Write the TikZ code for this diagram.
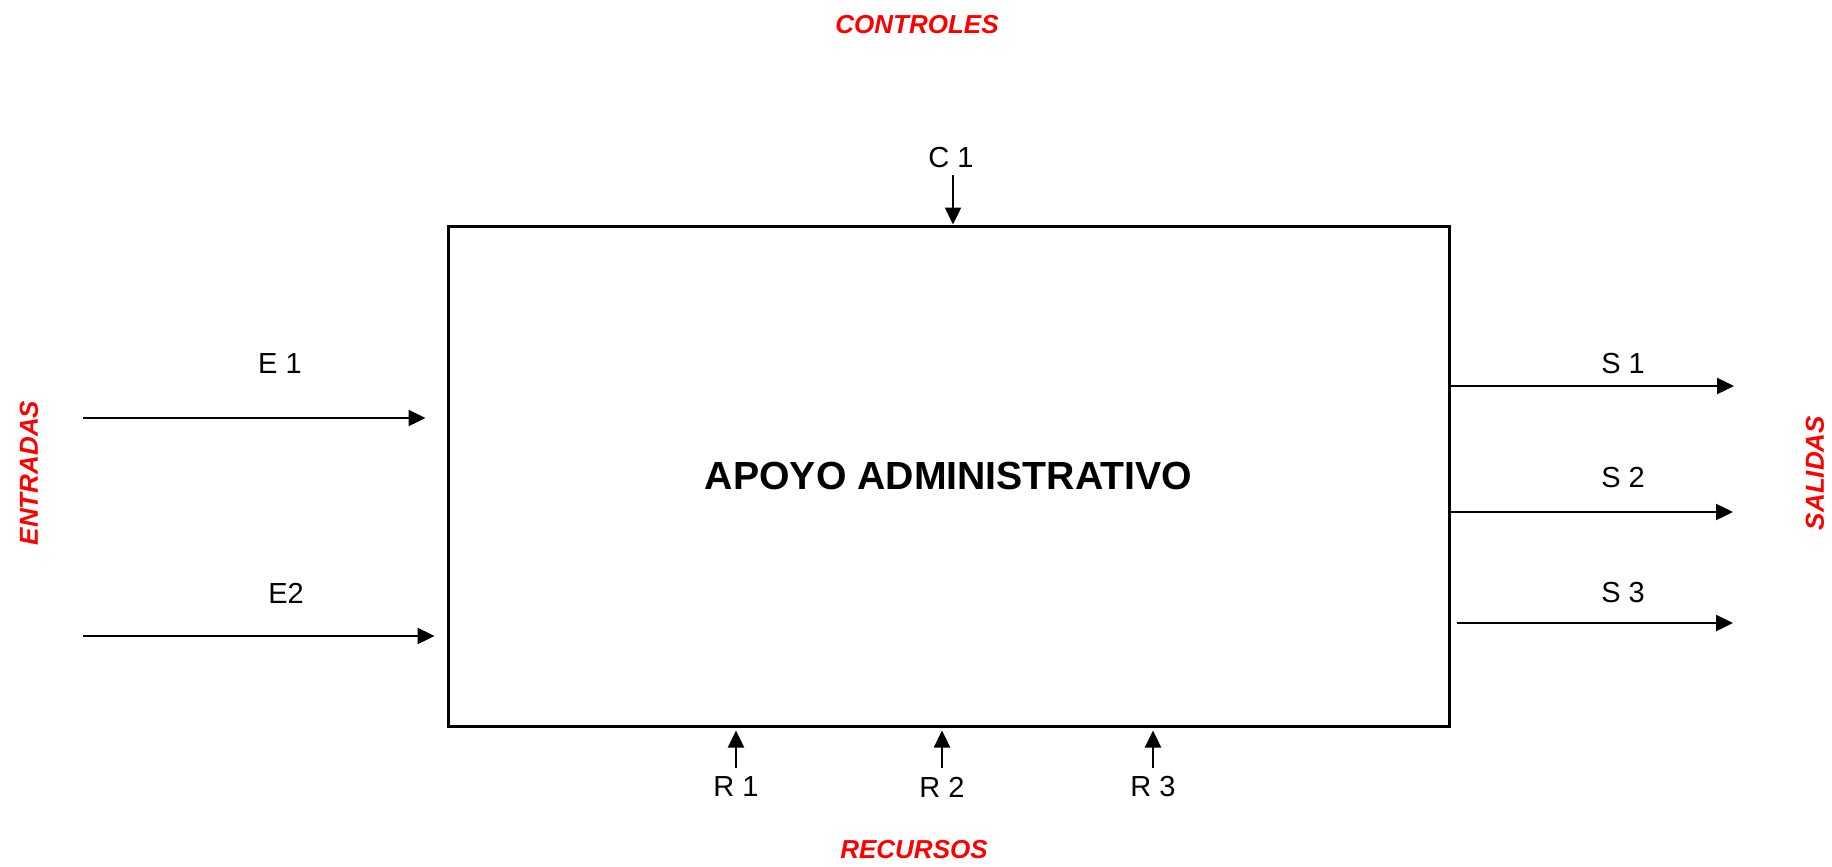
\documentclass[tikz,border=0pt]{standalone}
\usepackage{fontspec}
\setmainfont{Liberation Sans}
\usetikzlibrary{arrows.meta,calc}

\begin{document}
\begin{tikzpicture}[x=0.5pt,y=-0.5pt,
	flow/.style={line width=1.2pt,-{Triangle[length=8.5pt,width=8pt]}},
	lbl/.style={font=\fontsize{14.5}{17}\selectfont,inner sep=0pt},
	side/.style={font=\fontsize{13}{15}\bfseries\itshape\selectfont,text=red,inner sep=0pt}]
	\useasboundingbox (0,0) rectangle (1832,867);

	\node (proc) [draw,line width=1.5pt,minimum width=500.5pt,minimum height=250pt,inner sep=0pt]
		at (948.5,476) {\fontsize{19.6}{23}\bfseries\selectfont APOYO ADMINISTRATIVO};

	% entradas
	\coordinate (e1) at (83,418);
	\coordinate (e2) at (83,636);
	\draw[flow,shorten >=10.5pt] (e1) -- (e1 -| proc.west);
	\draw[flow,shorten >=6pt] (e2) -- (e2 -| proc.west);
	\node (le1) [lbl] at (280,364) {E 1};
	\node (le2) [lbl] at (286,593) {E2};
	\node (entradas) [side,rotate=90] at (29,473) {ENTRADAS};

	% salidas
	\coordinate (s1) at (1734,386);
	\coordinate (s2) at (1733,512);
	\coordinate (s3) at (1733,623);
	\draw[flow] (s1 -| proc.east) -- (s1);
	\draw[flow] (s2 -| proc.east) -- (s2);
	\draw[flow,shorten <=3pt] (s3 -| proc.east) -- (s3);
	\node (ls1) [lbl] at (1623,364) {S 1};
	\node (ls2) [lbl] at (1623,478) {S 2};
	\node (ls3) [lbl] at (1623,593) {S 3};
	\node (salidas) [side,rotate=90] at (1815,473) {SALIDAS};

	% controles
	\coordinate (c1) at (953,175);
	\draw[flow] (c1) -- (c1 |- proc.north);
	\node (lc1) [lbl] at (951,158) {C 1};
	\node (controles) [side] at (917,25) {CONTROLES};

	% recursos
	\foreach \x/\n in {736/1,942/2,1153/3}{
		\coordinate (r\n) at (\x,768);
		\draw[flow,shorten >=1.5pt] (r\n) -- (r\n |- proc.south);
		\node (lr\n) [lbl] at (\x,787) {R \n};
	}
	\node (recursos) [side] at (914,850) {RECURSOS};
\end{tikzpicture}
\end{document}
